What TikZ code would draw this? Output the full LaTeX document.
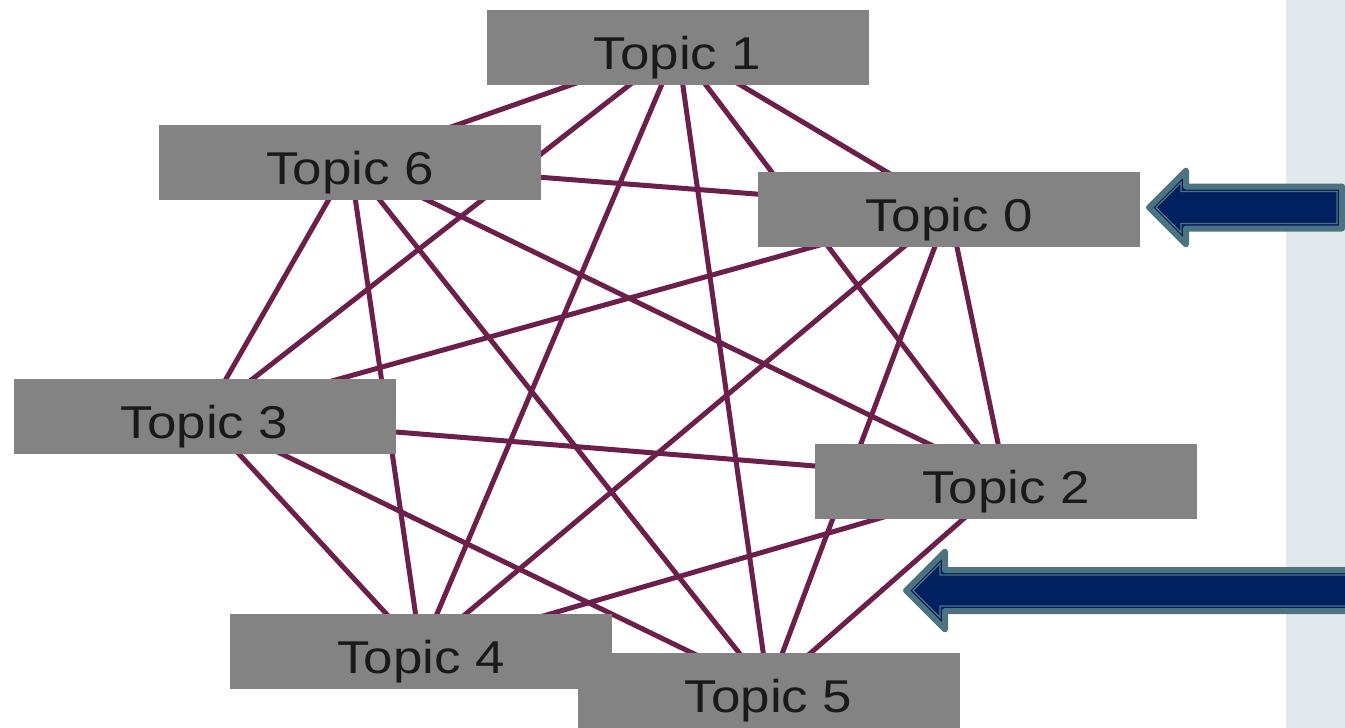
\documentclass[tikz,border=0pt]{standalone}
\usepackage{fontspec}
\newfontfamily\topicfont[FakeStretch=1.15]{Liberation Sans}
\definecolor{topicgray}{HTML}{838383}
\definecolor{topictext}{HTML}{1A1A1A}
\definecolor{linkpurple}{HTML}{6C1F4B}
\definecolor{panelblue}{HTML}{E1E9ED}
\definecolor{arrownavy}{HTML}{002060}
\definecolor{arrowslate}{HTML}{4E7380}
\pgfdeclarelayer{background}
\pgfsetlayers{background,main}

\begin{document}
\begin{tikzpicture}[x=0.5pt,y=-0.5pt,
    topic/.style={fill=topicgray,minimum width=191pt,minimum height=37.5pt,inner sep=0pt,
      text height=22pt,text depth=0pt,font=\topicfont\fontsize{23}{27}\selectfont,text=topictext},
    link/.style={draw=linkpurple,line width=2.5pt},
    pointer/.style={fill=arrownavy,draw=arrowslate,line width=3pt,line join=round},
    pointerinner/.style={draw=arrowslate,line width=0.6pt,line join=miter}]
      \useasboundingbox (0,0) rectangle (1345,728);
      \draw
        (949,209) node[topic] (0){Topic 0}
        (677.5,47.5) node[topic] (1){Topic 1}
        (1006,481.5) node[topic] (2){Topic 2}
        (204.5,416.5) node[topic] (3){Topic 3}
        (421,651.5) node[topic] (4){Topic 4}
        (768.5,690) node[topic] (5){Topic 5}
        (350,162.5) node[topic] (6){Topic 6};
      \begin{pgfonlayer}{background}
      \fill[white] (0,0) rectangle (1345,728);
      \fill[panelblue] (1286,0) rectangle (1345,728);
      \begin{scope}[link]
        \draw (0.center) to (1.center);
        \draw (0.center) to (2.center);
        \draw (0.center) to (3.center);
        \draw (0.center) to (4.center);
        \draw (0.center) to (5.center);
        \draw (0.center) to (6.center);
        \draw (1.center) to (2.center);
        \draw (1.center) to (3.center);
        \draw (1.center) to (4.center);
        \draw (1.center) to (5.center);
        \draw (1.center) to (6.center);
        \draw (2.center) to (3.center);
        \draw (2.center) to (4.center);
        \draw (2.center) to (5.center);
        \draw (2.center) to (6.center);
        \draw (3.center) to (4.center);
        \draw (3.center) to (5.center);
        \draw (3.center) to (6.center);
        \draw (4.center) to (5.center);
        \draw (4.center) to (6.center);
        \draw (5.center) to (6.center);
      \end{scope}
      \end{pgfonlayer}
      % arrows pointing at Topic 0 and Topic 2
      \draw[pointer] (1149,207.5) -- (1186,170.5) -- (1186,186.5) -- (1342,186.5)
        -- (1342,228.5) -- (1186,228.5) -- (1186,244.5) -- cycle;
      \draw[pointerinner] (1156,207.5) -- (1181,182.5) -- (1181,191.5) -- (1337,191.5)
        -- (1337,223.5) -- (1181,223.5) -- (1181,232.5) -- cycle;
      \draw[pointer] (906,590.5) -- (945,551.5) -- (945,570) -- (1352,570)
        -- (1352,611) -- (945,611) -- (945,629.5) -- cycle;
      \draw[pointerinner] (913,590.5) -- (940,563.5) -- (940,575) -- (1352,575)
        -- (1352,606) -- (940,606) -- (940,617.5) -- cycle;
    \end{tikzpicture}
\end{document}
